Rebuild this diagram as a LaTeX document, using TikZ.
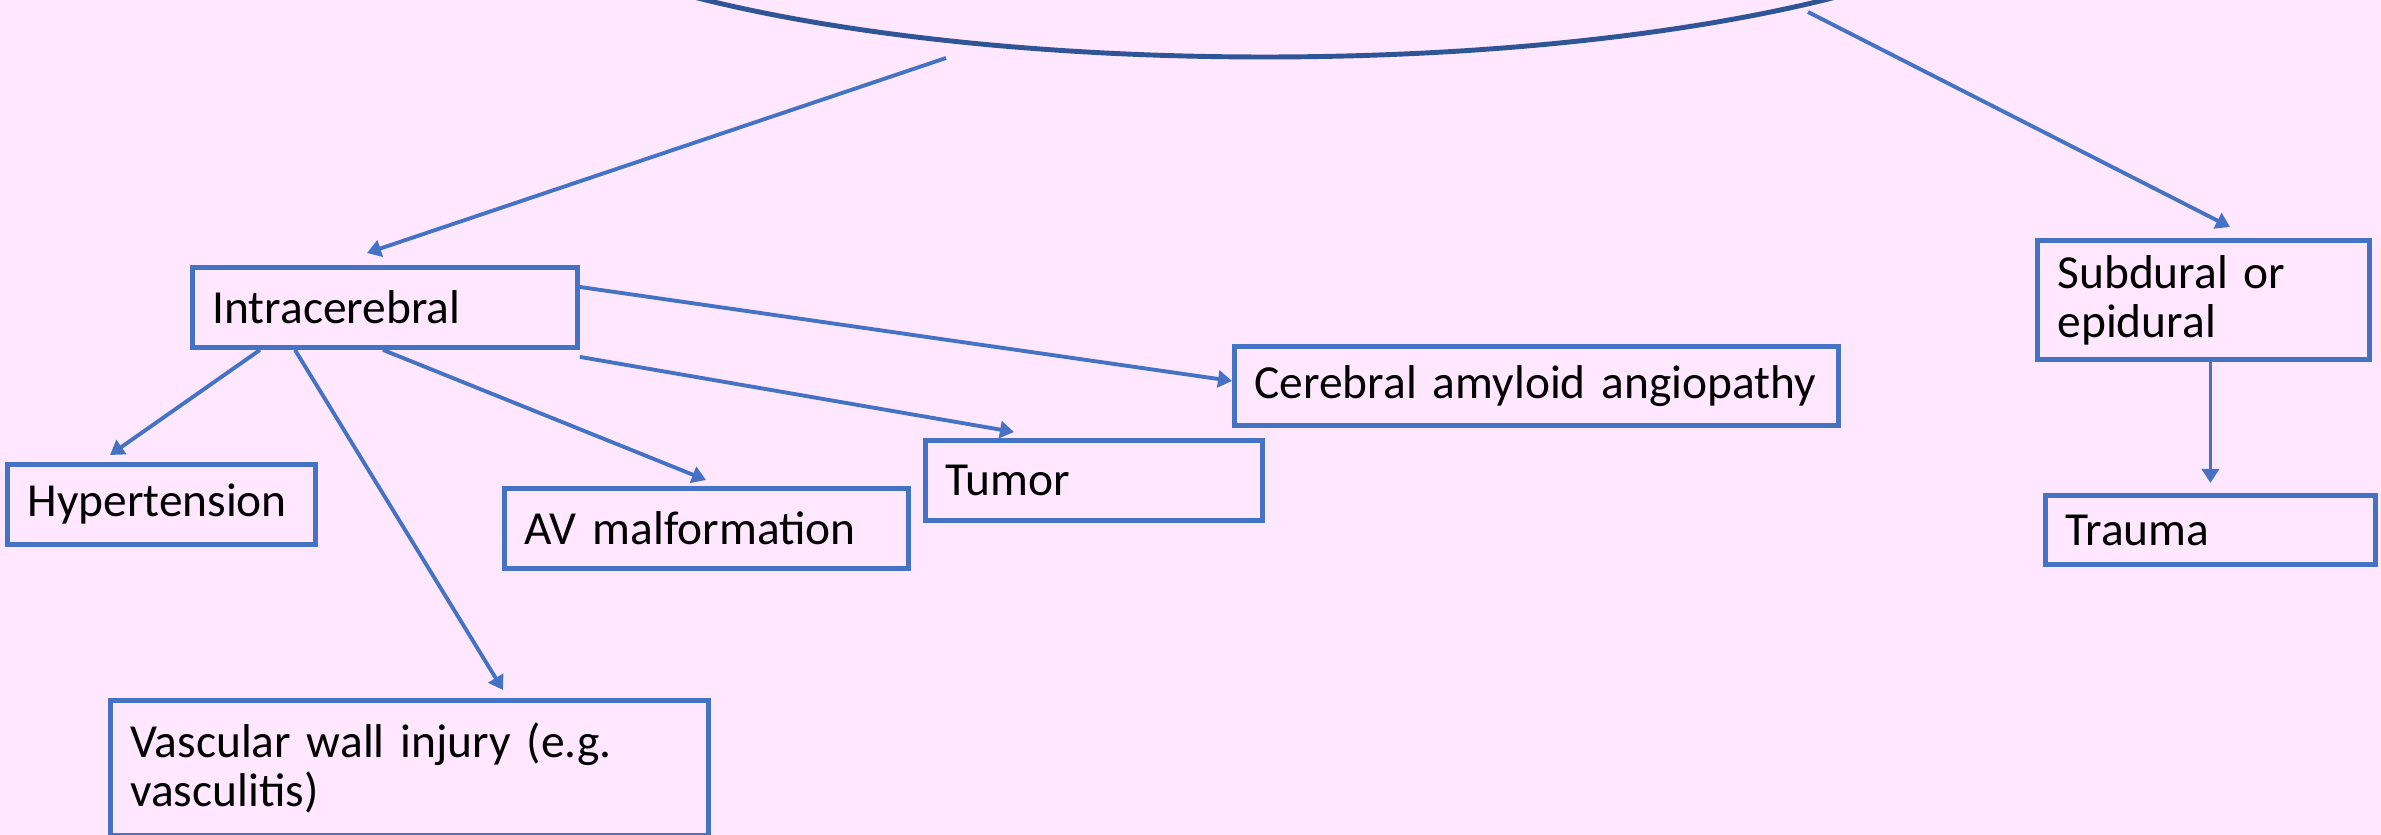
\documentclass[tikz,border=0pt]{standalone}
\usepackage{fontspec}
\setmainfont{Carlito}
\usetikzlibrary{shapes.geometric, arrows.meta, positioning, calc}
\definecolor{pagefill}  {HTML}{FFE8FF}
\definecolor{boxstroke} {HTML}{4472C4}
\definecolor{ovalstroke}{HTML}{2F5597}
\tikzset{
  causebox/.style={rectangle, draw=boxstroke, line width=1.4pt, align=left,
    inner xsep=0.2cm, inner ysep=0pt, anchor=north west, text=black,
    font=\fontsize{13.5}{14}\selectfont},
  ovalnode/.style={ellipse, draw=ovalstroke, line width=1.4pt},
  solidarr/.style={-{Triangle[length=0.14cm,width=0.17cm]}, line width=1.1pt, color=boxstroke}
}

\begin{document}
\begin{tikzpicture}

  \useasboundingbox (0,0) rectangle (23.81,-8.35);
  \fill[pagefill] (0,0) rectangle (23.81,-8.35);
  \clip (0,0) rectangle (23.81,-8.35);

  %% TOP OVAL (cut off by the page)
  \node[ovalnode, minimum width=16cm, minimum height=4cm] (hemorrhage) at (12.65,1.43) {};
  \coordinate (hem-l) at (9.46,-0.58);
  \coordinate (hem-r) at (18.08,-0.12);

  %% LEFT BRANCH
  \node[causebox, text width=3.45cm, minimum height=0.80cm] (intracerebral) at (1.90,-2.65)
    {Intracerebral};

  \node[causebox, text width=2.68cm, minimum height=0.80cm] (hypertension) at (0.05,-4.62)
    {Hypertension};

  \node[causebox, text width=3.64cm, minimum height=0.80cm] (avmalf) at (5.02,-4.86)
    {AV malformation};

  \node[causebox, text width=2.97cm, minimum height=0.80cm] (tumor) at (9.23,-4.38)
    {Tumor};

  \node[causebox, text width=5.64cm, minimum height=0.79cm] (amyloid) at (12.32,-3.44)
    {Cerebral amyloid angiopathy};

  \node[causebox, text width=5.58cm, minimum height=1.35cm] (vascwall) at (1.08,-6.98)
    {Vascular wall injury (e.g.\\vasculitis)};

  %% RIGHT BRANCH
  \node[causebox, text width=2.92cm, minimum height=1.19cm] (subdural) at (20.35,-2.38)
    {Subdural or\\epidural};

  \node[causebox, text width=2.90cm, minimum height=0.69cm] (trauma) at (20.43,-4.93)
    {Trauma};

  \draw[solidarr] (hem-l) -- ([xshift=1.77cm, yshift=0.12cm] intracerebral.north west);
  \draw[solidarr] (hem-r) -- ([xshift=1.95cm, yshift=0.11cm] subdural.north west);

  \draw[solidarr] ([xshift=0.70cm] intracerebral.south west)
    -- ([xshift=1.05cm, yshift=0.07cm] hypertension.north west);
  \draw[solidarr] ([xshift=1.05cm] intracerebral.south west)
    -- ([xshift=3.95cm, yshift=0.08cm] vascwall.north west);
  \draw[solidarr] ([xshift=1.93cm] intracerebral.south west)
    -- ([xshift=2.04cm, yshift=0.06cm] avmalf.north west);
  \draw[solidarr] ([yshift=-0.22cm] intracerebral.north east)
    -- ([yshift=0.05cm] amyloid.west);
  \draw[solidarr] ([yshift=-0.07cm] intracerebral.south east)
    -- ([xshift=0.91cm, yshift=0.06cm] tumor.north west);

  \draw[solidarr] (subdural.south -| trauma.north) -- ([yshift=0.10cm] trauma.north);

\end{tikzpicture}
\end{document}
